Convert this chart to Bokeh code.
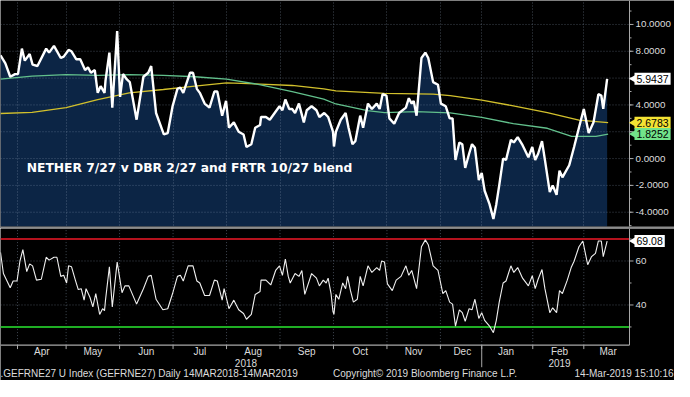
import math
from bokeh.plotting import figure
from bokeh.models import Range1d, FixedTicker, Grid, Span, Label
from bokeh.core.properties import value
from bokeh.layouts import column
from bokeh.embed import file_html
from bokeh.resources import INLINE

# ---------------- data (x = trading-session number since 14 Mar 2018) ----------------
spread_day = [6.0, 8.0, 10.0, 12.0, 13.2, 14.8, 16.0, 18.0, 19.2, 21.2, 24.8, 26.0, 28.0, 30.8, 32.0,
              34.0, 35.2, 37.2, 38.8, 40.8, 42.0, 43.2, 44.8, 46.0, 47.2, 48.8, 49.2, 50.8, 52.0, 54.0,
              55.2, 56.4, 58.0, 59.2, 62.0, 64.8, 66.8, 68.0, 70.0, 73.2, 74.8, 76.8, 78.8, 80.0, 81.2,
              84.0, 85.2, 86.8, 88.0, 90.0, 92.0, 94.0, 95.2, 97.2, 98.8, 100.0, 102.0, 104.0, 106.0,
              107.2, 109.2, 110.8, 112.8, 113.2, 115.2, 116.8, 118.8, 120.8, 122.0, 123.2, 124.8, 126.0,
              127.2, 128.8, 130.8, 132.0, 134.0, 136.0, 137.2, 139.2, 140.8, 142.8, 143.2, 144.0, 146.0,
              148.0, 149.2, 150.8, 152.0, 154.0, 155.2, 157.2, 158.8, 160.8, 162.0, 163.2, 164.8, 166.0,
              168.0, 170.0, 172.8, 174.0, 175.2, 176.0, 177.2, 179.2, 180.8, 182.0, 184.0, 186.0, 187.2,
              189.2, 190.8, 192.0, 193.2, 194.8, 196.0, 197.2, 198.8, 200.0, 201.2, 202.8, 204.0, 205.2,
              207.2, 208.8, 210.0, 211.2, 212.8, 214.0, 216.0, 217.2, 218.8, 220.8, 223.2, 224.8, 226.0,
              227.2, 228.8, 230.0, 232.0, 233.2, 234.8, 236.0, 237.2, 240.0, 242.0, 244.0, 246.0, 248.0,
              250.0, 252.0, 253.2, 254.0, 255.6]
spread_val = [7.7, 7.1, 6.1, 6.3, 6.3, 8.2, 7.3, 7.8, 7.0, 6.9, 8.2, 7.9, 8.4, 7.5, 7.6,
              8.1, 8.0, 7.4, 7.4, 6.6, 6.8, 6.4, 6.6, 4.9, 5.4, 4.9, 5.8, 7.9, 3.8, 9.5,
              4.6, 6.3, 5.9, 5.7, 2.9, 6.1, 6.4, 6.9, 3.4, 1.8, 1.9, 3.9, 5.2, 5.3, 4.9,
              6.4, 6.4, 5.2, 4.9, 4.1, 3.8, 5.0, 5.0, 3.2, 4.3, 2.3, 2.7, 2.0, 1.8,
              0.86, 1.07, 2.3, 2.5, 3.1, 3.1, 2.9, 3.4, 3.9, 3.6, 4.4, 3.7, 3.7,
              3.4, 4.1, 2.7, 3.6, 3.9, 3.6, 3.1, 3.4, 3.1, 2.0, 0.9, 2.0, 2.9,
              3.4, 2.3, 1.07, 1.3, 3.2, 2.3, 4.1, 3.7, 4.1, 3.7, 4.8, 4.7, 3.0,
              2.6, 3.4, 3.8, 4.5, 4.1, 4.3, 3.2, 7.5, 7.9, 7.5, 5.7, 5.5, 4.1,
              3.9, 3.0, 3.0, -0.1, 1.2, 1.07, -0.7, 0.36, 1.07, 0.8, -1.6, -1.07, -2.4,
              -3.4, -4.5, -3.4, -2.0, 0.0, -0.1, 1.4, 1.2, 1.6, 1.0, 0.1, 0.86, -0.1,
              0.36, 1.3, -0.1, -2.5, -2.0, -2.7, -0.9, -1.4, -0.5, 0.86, 2.3, 3.7, 1.9,
              2.7, 4.8, 4.7, 3.7, 5.9437]

yellow_day = [6, 19, 33, 46, 59, 73, 86, 99, 113, 126, 139, 144, 164, 184, 191, 204, 217, 231, 244, 256]
yellow_val = [3.36, 3.45, 3.8, 4.4, 4.9, 5.15, 5.4, 5.64, 5.55, 5.45, 5.2, 5.05, 4.86, 4.8, 4.7,
              4.36, 3.93, 3.43, 2.86, 2.6783]

green_day = [6, 19, 33, 46, 59, 73, 86, 99, 113, 126, 139, 144, 157, 164, 177, 191, 204, 217, 231,
             241, 251, 256]
green_val = [5.93, 6.14, 6.26, 6.2, 6.26, 6.2, 6.1, 5.93, 5.5, 5.0, 4.43, 4.07, 3.57, 3.43, 3.5, 3.4,
             3.07, 2.6, 2.26, 1.65, 1.65, 1.8252]

rsi_day = [6.0, 7.2, 10.0, 11.2, 12.8, 14.0, 15.2, 16.8, 18.0, 19.2, 20.8, 22.8, 24.8, 26.0, 28.0,
           29.2, 30.8, 32.0, 33.2, 34.0, 35.2, 36.8, 38.0, 39.2, 40.4, 41.2, 42.8, 44.0, 45.2, 46.8,
           48.0, 48.8, 49.2, 50.8, 52.0, 54.0, 56.0, 57.2, 58.8, 62.0, 64.8, 66.8, 68.0, 70.0, 72.8,
           74.8, 76.8, 78.8, 80.0, 81.2, 83.2, 85.2, 86.8, 88.0, 90.0, 92.0, 94.0, 95.2, 97.2, 98.0,
           100.0, 102.0, 104.0, 106.0, 107.2, 109.2, 110.8, 112.8, 113.2, 115.2, 117.2, 119.2, 120.8,
           122.0, 123.2, 124.4, 125.2, 127.2, 128.8, 130.0, 131.2, 134.0, 136.0, 137.2, 138.8, 140.0,
           140.8, 142.0, 142.8, 143.2, 144.0, 145.2, 146.8, 148.0, 148.8, 150.0, 151.2, 152.8, 154.0,
           155.2, 157.2, 158.8, 160.8, 162.0, 162.8, 164.0, 165.2, 167.2, 168.8, 170.8, 172.8, 174.0,
           175.2, 177.2, 179.2, 180.8, 182.0, 184.0, 186.0, 188.0, 189.2, 190.8, 192.0, 193.2, 194.8,
           196.0, 197.2, 198.8, 200.0, 201.2, 202.8, 204.0, 205.2, 207.2, 208.8, 210.0, 211.2, 212.8,
           214.0, 216.0, 217.2, 218.8, 220.8, 223.2, 224.8, 226.0, 227.2, 228.8, 230.0, 232.0, 233.2,
           234.8, 236.0, 237.2, 239.2, 240.8, 242.0, 244.0, 245.6, 247.6, 249.2, 250.8, 252.0, 253.2,
           254.0, 255.6]
rsi_val = [63.9, 54.3, 47.8, 50.9, 50.9, 60.0, 65.2, 55.2, 58.7, 57.8, 51.3, 51.7, 61.7, 60.4, 61.7,
           61.7, 53.0, 53.5, 50.0, 57.8, 57.4, 51.3, 47.0, 47.4, 42.2, 47.4, 43.5, 39.1, 45.2, 35.7,
           38.3, 37.4, 42.2, 57.4, 39.1, 59.5, 45.6, 48.7, 48.7, 40.4, 47.4, 53.0, 53.5, 42.6, 37.8,
           38.3, 45.2, 53.0, 53.5, 50.9, 57.8, 57.8, 50.9, 50.0, 44.3, 44.3, 51.3, 50.9, 42.2, 47.4,
           38.3, 42.2, 37.8, 36.1, 33.5, 35.7, 44.8, 46.1, 51.3, 51.3, 49.1, 55.7, 57.8,
           53.5, 60.9, 53.0, 50.0, 54.3, 53.0, 55.7, 44.8, 54.3, 52.2, 48.7, 51.3, 50.0,
           52.2, 45.2, 37.0, 35.7, 44.8, 42.6, 50.0, 47.4, 53.0, 46.5, 41.3, 42.6, 53.0,
           48.7, 57.8, 54.8, 57.0, 55.7, 60.0, 59.5, 49.6, 46.5, 51.3, 53.0, 57.8, 53.5,
           55.7, 47.4, 66.5, 69.6, 67.4, 57.8, 55.7, 45.2, 46.5, 41.3, 40.4, 30.4, 37.8,
           36.5, 32.6, 38.3, 37.8, 42.6, 33.9, 36.5, 33.0, 30.4, 27.4, 33.0, 41.3, 50.0,
           50.9, 57.8, 54.8, 57.0, 52.2, 48.7, 53.3, 47.4, 51.7, 56.1, 47.4, 36.5, 38.7,
           36.5, 46.5, 45.2, 51.3, 57.0, 59.9, 66.5, 69.1, 58.3, 62.0, 63.5, 69.1, 69.1,
           62.0, 69.08]

month_edges = [13, 33, 55, 77, 99, 121, 143, 165, 187, 204, 225, 246]
month_mids = [23, 44, 66, 88, 110, 132, 154, 176, 196, 214, 236, 256]
month_names = ["Apr", "May", "Jun", "Jul", "Aug", "Sep", "Oct", "Nov", "Dec", "Jan", "Feb", "Mar"]
year_pos = [107, 236]
year_names = ["2018", "2019"]
year_break = 204

spread_ticks = [-4, -2, 0, 2, 4, 6, 8, 10]
spread_minor = list(range(-5, 12))
rsi_ticks = [40, 60]
rsi_minor = [30, 50, 70]
rsi_upper, rsi_lower = 70, 30

last_spread = spread_val[-1]
last_yellow = yellow_val[-1]
last_green = green_val[-1]
last_rsi = rsi_val[-1]

title_text = "NETHER 7/27 v DBR 2/27 and FRTR 10/27 blend"
footer_left = ".GEFRNE27 U Index (GEFRNE27)  Daily 14MAR2018-14MAR2019"
footer_mid = "Copyright\u00a9 2019 Bloomberg Finance L.P."
footer_right = "14-Mar-2019 15:10:16"

# ---------------- layout / style ----------------
FONT = "Liberation Sans"
W = 674
H_TOP = 228
H_BOT = 152
X0 = 6.0                 # left edge of the plotting area (session)
AX = 264.8               # session position of the right-hand value axis
K = (AX - X0) / 629.0    # sessions per pixel
X1 = X0 + W * K          # right edge of the canvas (session)
NAVY = "#0c2545"
GRID = "#8fa0b8"
AXIS = "#a8a8a8"
LBL = "#dcdcdc"
YEL = "#d2c02c"
GRN = "#62c08c"

x_rng = Range1d(X0, X1)


def base(height, yr):
    return figure(width=W, height=height, x_range=x_rng, y_range=yr,
                  x_axis_type=None, y_axis_type=None, toolbar_location=None,
                  output_backend="svg", background_fill_color="black",
                  border_fill_color="black", outline_line_color=None, min_border=0)


def hgrid(p, ys):
    p.segment(x0=X0, x1=AX, y0=ys, y1=ys, line_color=GRID, line_alpha=0.45,
              line_dash="1 2", line_width=1)


def value_axis(p, y_lo, y_hi, ticks, minor, labels):
    p.segment(x0=AX, x1=AX, y0=y_lo, y1=y_hi, line_color=AXIS, line_width=1)
    p.segment(x0=AX, x1=AX + 4 * K, y0=ticks, y1=ticks, line_color=AXIS, line_width=1)
    p.segment(x0=AX, x1=AX + 2 * K, y0=minor, y1=minor, line_color=AXIS, line_width=1)
    p.text(x=AX + 6 * K, y=ticks, text=labels, text_font=value(FONT),
           text_font_size="9.8px", text_color=LBL, text_baseline="middle", text_align="left")


def tags(p, vals, texts, fills):
    p.scatter(x=AX + 4 * K, y=vals, marker="triangle", angle=math.pi / 2, size=8,
              fill_color=fills, line_color=None)
    for v, t, f in zip(vals, texts, fills):
        p.add_layout(Label(x=AX + 5 * K, y=v, text=t, text_font=FONT, text_font_size="10.5px",
                           text_color="black", text_baseline="middle", text_align="left",
                           background_fill_color=f, padding=2))


# ---------------- top panel ----------------
TOP_LO, TOP_HI = -5.214, 11.786
top = base(H_TOP, Range1d(TOP_LO, TOP_HI))
top.varea(x=spread_day, y1=spread_val, y2=-5.07, fill_color=NAVY, level="underlay")
top.add_layout(Grid(dimension=0, ticker=FixedTicker(ticks=month_edges), grid_line_color=GRID,
                    grid_line_alpha=0.45, grid_line_dash="1 2"))
hgrid(top, spread_ticks)
top.line(yellow_day, yellow_val, line_color=YEL, line_width=1.3)
top.line(green_day, green_val, line_color=GRN, line_width=1.3)
top.line(spread_day, spread_val, line_color="white", line_width=2.4)
top.add_layout(Span(location=-5.143, dimension="width", line_color="#8c8c8c", line_width=2))
value_axis(top, -5.07, TOP_HI, spread_ticks, spread_minor, [f"{t:.4f}" for t in spread_ticks])
top.text(x=[16.8], y=[-0.71], text=[title_text], text_color="white",
         text_font=value("DejaVu Sans"), text_font_style="bold", text_font_size="12.3px",
         text_baseline="middle")
tags(top, [last_spread, last_yellow, last_green],
     [f"{last_spread:.4f}", f"{last_yellow:.4f}", f"{last_green:.4f}"],
     ["white", "#f4e233", "#72e38a"])

# ---------------- bottom panel ----------------
BOT_LO, BOT_HI = 5.65, 74.78
AXIS_Y = 21.74
bot = base(H_BOT, Range1d(BOT_LO, BOT_HI))
bot.segment(x0=month_edges, x1=month_edges, y0=AXIS_Y, y1=BOT_HI, line_color=GRID,
            line_alpha=0.45, line_dash="1 2", line_width=1)
hgrid(bot, rsi_ticks)
bot.segment(x0=X0, x1=AX, y0=rsi_upper, y1=rsi_upper, line_color="#b5121d", line_width=2)
bot.segment(x0=X0, x1=AX, y0=rsi_lower, y1=rsi_lower, line_color="#1fae24", line_width=2)
bot.line(rsi_day, rsi_val, line_color="#f0f0f0", line_width=1.1)
value_axis(bot, AXIS_Y, BOT_HI, rsi_ticks, rsi_minor, [str(t) for t in rsi_ticks])
tags(bot, [last_rsi], [f"{last_rsi:.2f}"], ["white"])

# time axis
bot.segment(x0=X0, x1=AX, y0=AXIS_Y, y1=AXIS_Y, line_color=AXIS, line_width=1.2)
bot.segment(x0=month_edges, x1=month_edges, y0=AXIS_Y, y1=AXIS_Y - 1.8, line_color=AXIS,
            line_width=1)
bot.segment(x0=[year_break], x1=[year_break], y0=AXIS_Y, y1=11.7, line_color=AXIS, line_width=1)
bot.text(x=month_mids, y=18.7, text=month_names, text_font=value(FONT), text_font_size="10px",
         text_color=LBL, text_baseline="middle", text_align="center")
bot.text(x=year_pos, y=13.5, text=year_names, text_font=value(FONT), text_font_size="10px",
         text_color=LBL, text_baseline="middle", text_align="center")
bot.text(x=[X0, 142.8, X1 - 1 * K], y=8.7, text=[footer_left, footer_mid, footer_right],
         text_font=value(FONT), text_font_size="10px", text_color=LBL, text_baseline="middle",
         text_align=["left", "left", "right"])

layout = column(top, bot, spacing=0)
open("out.html", "w").write(file_html(layout, INLINE))
